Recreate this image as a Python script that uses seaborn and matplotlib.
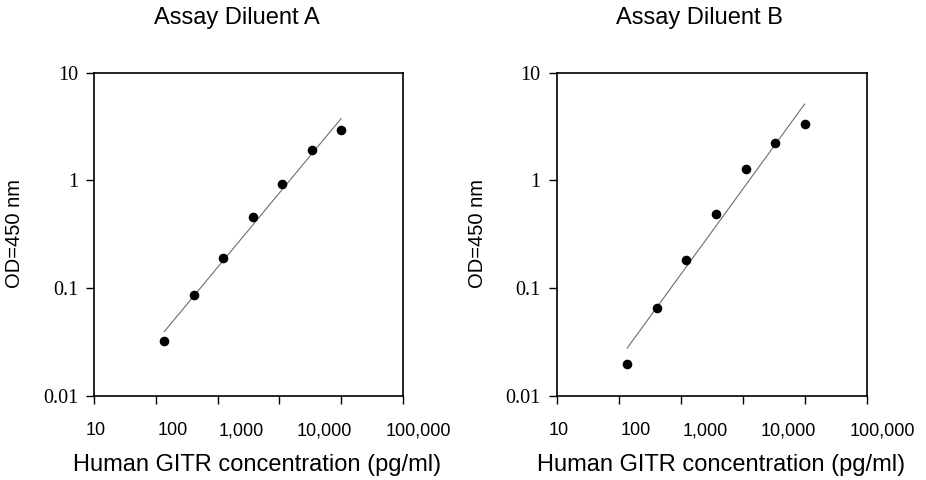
import numpy as np
import pandas as pd
import matplotlib
matplotlib.use("Agg")
import matplotlib.pyplot as plt
import matplotlib.transforms as mtransforms
import seaborn as sns

# ---- data ----
concentration = [81, 195, 471, 1135, 2730, 6610, 15850]          # pg/ml
od_diluent_a = [0.0324, 0.0873, 0.190, 0.456, 0.922, 1.93, 2.92]
od_diluent_b = [0.0199, 0.0652, 0.183, 0.489, 1.27, 2.24, 3.32]
panel_titles = ["Assay Diluent A", "Assay Diluent B"]
xtick_labels = ["10", "100", "1,000", "10,000", "100,000"]
ytick_values = [0.01, 0.1, 1, 10]
ytick_labels = ["0.01", "0.1", "1", "10"]
x_label = "Human GITR concentration (pg/ml)"
y_label = "OD=450 nm"

sns.set_style("white")
SANS = ["Liberation Sans", "DejaVu Sans"]
SERIF = ["Liberation Serif", "DejaVu Serif"]
plt.rcParams["font.family"] = SANS
plt.rcParams["text.color"] = "black"
plt.rcParams["xtick.color"] = "black"
plt.rcParams["ytick.color"] = "black"

W, H = 926, 480
fig = plt.figure(figsize=(W / 100, H / 100), dpi=100)

# axes boxes in pixels: left, top, right, bottom
boxes = [(94, 72.7, 403, 396), (556.7, 72.7, 866.7, 396)]
# tick-label centres as fraction of axes width (layout)
xlab_frac = [0.006, 0.254, 0.478, 0.746, 1.05]

for i, (od, title, box) in enumerate(zip([od_diluent_a, od_diluent_b], panel_titles, boxes)):
    l, t, r, b = box
    ax = fig.add_axes([l / W, 1 - b / H, (r - l) / W, (b - t) / H])
    df = pd.DataFrame({"conc": concentration, "od": od})

    # log-log linear fit
    coef = np.polyfit(np.log10(df["conc"]), np.log10(df["od"]), 1)
    fit_x = np.array([df["conc"].min(), df["conc"].max()])
    fit = pd.DataFrame({"conc": fit_x, "od": 10 ** np.polyval(coef, np.log10(fit_x))})

    sns.lineplot(data=fit, x="conc", y="od", ax=ax, color="#6e6e6e", linewidth=0.8)
    sns.scatterplot(data=df, x="conc", y="od", ax=ax, color="black", s=48,
                    edgecolor="black", linewidth=0, zorder=3)

    ax.set_xscale("log")
    ax.set_yscale("log")
    ax.set_xlim(10, 1e5)
    ax.set_ylim(0.01, 10)
    ax.minorticks_off()

    ax.set_xticks([10 ** (1 + 0.8 * k) for k in range(6)])
    ax.set_xticklabels([""] * 6)
    ax.set_yticks(ytick_values)
    ax.set_yticklabels(ytick_labels, fontfamily=SERIF, fontsize=14.5, color="black")
    ax.tick_params(axis="both", which="major", bottom=True, left=True,
                   top=False, right=False, direction="out", length=5.5,
                   width=1.0, color="black", labelcolor="black", pad=6)
    ax.minorticks_off()

    for sp in ax.spines.values():
        sp.set_visible(True)
        sp.set_color("black")
        sp.set_linewidth(1.2)

    ax.set_xlabel("")
    ax.set_ylabel("")

    trans = mtransforms.blended_transform_factory(ax.transAxes, fig.transFigure)
    for lab, fx in zip(xtick_labels, xlab_frac):
        ax.text(fx, 1 - 435 / H, lab, transform=trans, ha="center", va="baseline",
                fontsize=13, fontfamily=SANS, color="black", clip_on=False)

    cx = (l + r) / 2
    fig.text((cx - 12) / W, 1 - 24 / H, title, ha="center", va="baseline",
             fontsize=17, fontfamily=SANS, color="black")
    fig.text((cx + 9) / W, 1 - 471.5 / H, x_label, ha="center", va="baseline",
             fontsize=17, fontfamily=SANS, color="black")
    fig.text((l - 79) / W, 1 - 233 / H, y_label, ha="center", va="center",
             rotation=90, fontsize=14.5, fontfamily=SANS, color="black")

fig.savefig("out.png", dpi=100)
